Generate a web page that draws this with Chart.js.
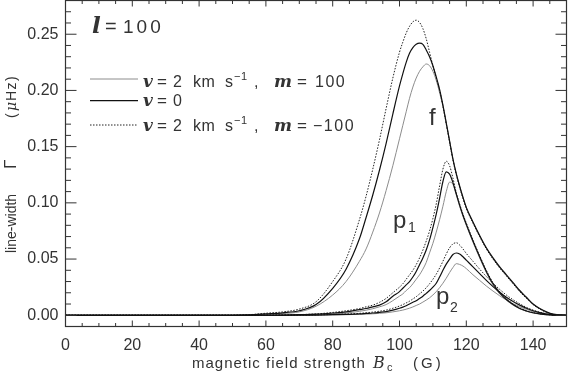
<!DOCTYPE html>
<html>
<head>
<meta charset="utf-8">
<script src="https://cdn.jsdelivr.net/npm/chart.js@4.4.0/dist/chart.umd.min.js"></script>
<style>
html, body { margin: 0; padding: 0; background: #fff; }
canvas { display: block; }
</style>
</head>
<body>
<canvas id="chart" width="568" height="372"></canvas>
<script>
// field strength B_c (G)
var Bc = [0, 50, 55, 60, 65, 70, 75, 80, 84, 88, 90, 92, 94, 96, 98,
  100, 101, 102, 103, 104, 105, 106, 107, 108, 109, 110, 111, 112, 113, 114, 115, 116, 117, 118, 119, 120,
  122, 124, 126, 128, 130, 132, 134, 136, 138, 140, 142, 144, 146, 150];

// line-width (muHz), f mode
var fP2 = [0, 0, 0.0002, 0.0008, 0.0015, 0.003, 0.008, 0.018, 0.030, 0.048, 0.059, 0.074, 0.091, 0.111, 0.133,
  0.157, 0.169, 0.181, 0.193, 0.203, 0.211, 0.217, 0.221, 0.2235, 0.222, 0.217, 0.209, 0.198, 0.186, 0.171, 0.155, 0.139, 0.126, 0.1145, 0.1045, 0.0955,
  0.0825, 0.0705, 0.0595, 0.0505, 0.0425, 0.0355, 0.0285, 0.0215, 0.0155, 0.0098, 0.0058, 0.0028, 0.0009, 0];
var fV0 = [0, 0, 0.0003, 0.0012, 0.0022, 0.004, 0.0095, 0.024, 0.041, 0.068, 0.087, 0.107, 0.129, 0.153, 0.179,
  0.204, 0.215, 0.225, 0.233, 0.238, 0.241, 0.242, 0.241, 0.236, 0.230, 0.222, 0.212, 0.201, 0.187, 0.171, 0.155, 0.139, 0.126, 0.115, 0.105, 0.096,
  0.083, 0.071, 0.060, 0.051, 0.043, 0.036, 0.029, 0.022, 0.016, 0.010, 0.006, 0.003, 0.001, 0];
var fM2 = [0, 0, 0.0005, 0.0018, 0.003, 0.0055, 0.012, 0.030, 0.050, 0.085, 0.106, 0.130, 0.156, 0.184, 0.211,
  0.234, 0.243, 0.251, 0.257, 0.261, 0.2625, 0.2605, 0.255, 0.246, 0.234, 0.222, 0.211, 0.200, 0.186, 0.170, 0.154, 0.138, 0.125, 0.114, 0.104, 0.095,
  0.082, 0.070, 0.059, 0.050, 0.042, 0.035, 0.028, 0.021, 0.015, 0.0095, 0.0055, 0.0025, 0.0008, 0];

// p1 mode
var p1P2 = [0, 0, 0, 0, 0.0001, 0.0003, 0.0007, 0.0014, 0.002, 0.0035, 0.0045, 0.0058, 0.0075, 0.0095, 0.013,
  0.017, 0.019, 0.022, 0.0245, 0.028, 0.032, 0.036, 0.041, 0.047, 0.0555, 0.064, 0.074, 0.085, 0.097, 0.110, 0.1184, 0.1165, 0.107, 0.097, 0.088, 0.080,
  0.065, 0.051, 0.038, 0.027, 0.019, 0.0135, 0.009, 0.0058, 0.0036, 0.002, 0.0011, 0.0004, 0.0001, 0];
var p1V0 = [0, 0, 0, 0, 0.0002, 0.0005, 0.001, 0.002, 0.003, 0.005, 0.006, 0.0075, 0.009, 0.012, 0.017,
  0.021, 0.024, 0.027, 0.030, 0.034, 0.039, 0.045, 0.051, 0.058, 0.067, 0.078, 0.090, 0.104, 0.119, 0.1276, 0.1255, 0.118, 0.108, 0.098, 0.089, 0.081,
  0.066, 0.052, 0.039, 0.028, 0.020, 0.014, 0.0095, 0.006, 0.0038, 0.0022, 0.0012, 0.0005, 0.0001, 0];
var p1M2 = [0, 0, 0, 0.0001, 0.0003, 0.0006, 0.0012, 0.0025, 0.004, 0.006, 0.0075, 0.009, 0.0115, 0.015, 0.020,
  0.025, 0.028, 0.032, 0.036, 0.040, 0.045, 0.051, 0.058, 0.066, 0.075, 0.086, 0.099, 0.115, 0.130, 0.137, 0.133, 0.122, 0.109, 0.099, 0.090, 0.082,
  0.067, 0.053, 0.040, 0.029, 0.021, 0.015, 0.010, 0.0065, 0.004, 0.0024, 0.0013, 0.0006, 0.0002, 0];

// p2 mode
var p2P2 = [0, 0, 0, 0, 0, 0, 0.0001, 0.0003, 0.0005, 0.0008, 0.001, 0.0013, 0.0017, 0.0022, 0.003,
  0.004, 0.0046, 0.0054, 0.0063, 0.0074, 0.0087, 0.010, 0.0117, 0.0135, 0.0155, 0.018, 0.021, 0.0245, 0.0285, 0.033, 0.038, 0.0425, 0.0459, 0.0452, 0.0438, 0.0415,
  0.036, 0.031, 0.026, 0.0215, 0.0173, 0.0135, 0.0103, 0.0076, 0.0053, 0.0034, 0.002, 0.0009, 0.0003, 0];
var p2V0 = [0, 0, 0, 0, 0, 0, 0.0002, 0.0005, 0.0008, 0.0012, 0.0016, 0.002, 0.0026, 0.0033, 0.0045,
  0.0062, 0.0072, 0.0085, 0.010, 0.0115, 0.013, 0.015, 0.017, 0.0195, 0.022, 0.025, 0.0285, 0.034, 0.040, 0.0455, 0.050, 0.054, 0.0554, 0.0545, 0.052, 0.049,
  0.043, 0.037, 0.031, 0.0255, 0.0205, 0.016, 0.0122, 0.009, 0.0062, 0.004, 0.0024, 0.0011, 0.0003, 0];
var p2M2 = [0, 0, 0, 0, 0, 0.0001, 0.0003, 0.0007, 0.0011, 0.0017, 0.0022, 0.0028, 0.0036, 0.0046, 0.0062,
  0.0082, 0.0095, 0.011, 0.0125, 0.0145, 0.0165, 0.019, 0.0215, 0.0245, 0.028, 0.032, 0.0365, 0.042, 0.048, 0.0545, 0.060, 0.0635, 0.0645, 0.0625, 0.059, 0.055,
  0.048, 0.041, 0.0345, 0.0285, 0.023, 0.018, 0.0138, 0.0102, 0.007, 0.0046, 0.0027, 0.0013, 0.0004, 0];

var xTicks = [0, 20, 40, 60, 80, 100, 120, 140];
var yTicks = [0.00, 0.05, 0.10, 0.15, 0.20, 0.25];

var GRAY = '#8c8c8c', INK = '#333';
var SANS = '"Liberation Sans", Arial, sans-serif';
var SERIF = '"DejaVu Serif", "Liberation Serif", serif';

function pts(arr) {
  return Bc.map(function (b, i) { return { x: b, y: arr[i] }; });
}

function line(arr, kind) {
  var ds = { data: pts(arr), pointRadius: 0, fill: false, cubicInterpolationMode: 'monotone' };
  if (kind == 'gray') { ds.borderColor = GRAY; ds.borderWidth = 1; ds.order = 2; }
  if (kind == 'black') { ds.borderColor = '#111'; ds.borderWidth = 1.2; ds.order = 0; }
  if (kind == 'dot') { ds.borderColor = '#222'; ds.borderWidth = 1; ds.borderDash = [1.5, 1.5]; ds.order = 1; }
  return ds;
}

function put(ctx, text, font, x, y, sp) {
  ctx.font = font;
  ctx.letterSpacing = (sp || 0) + 'px';
  ctx.fillText(text, x, y);
}

// frame with inward ticks on all four sides
var frame = {
  id: 'frame',
  afterDatasetsDraw: function (chart) {
    var ctx = chart.ctx, a = chart.chartArea, xs = chart.scales.x, ys = chart.scales.y;
    ctx.save();
    ctx.strokeStyle = INK;
    ctx.lineWidth = 1.2;
    ctx.strokeRect(a.left, a.top, a.right - a.left, a.bottom - a.top);
    ctx.lineWidth = 1;
    ctx.beginPath();
    for (var v = 0; v <= 150; v += 5) {
      var px = xs.getPixelForValue(v), len = (v % 20 == 0) ? 6 : 3.5;
      ctx.moveTo(px, a.bottom); ctx.lineTo(px, a.bottom - len);
      ctx.moveTo(px, a.top); ctx.lineTo(px, a.top + len);
    }
    for (var k = -1; k <= 28; k++) {
      var py = ys.getPixelForValue(k / 100), ln = (k % 5 == 0) ? 11 : 5.5;
      ctx.moveTo(a.left, py); ctx.lineTo(a.left + ln, py);
      ctx.moveTo(a.right, py); ctx.lineTo(a.right - ln, py);
    }
    ctx.stroke();
    ctx.restore();
  }
};

// legend, mode labels and axis titles
var texts = {
  id: 'texts',
  afterDraw: function (chart) {
    var ctx = chart.ctx;
    ctx.save();
    ctx.fillStyle = INK;
    ctx.textAlign = 'left';
    ctx.textBaseline = 'alphabetic';

    put(ctx, 'l', 'italic bold 23px ' + SERIF, 92, 33);
    put(ctx, '=', '20px ' + SANS, 105, 33);
    put(ctx, '100', '19px ' + SANS, 123, 33, 3);

    // legend samples
    var rows = [[79, GRAY, 1, []], [100.7, '#111', 1.2, []], [125, '#222', 1, [1.5, 1.5]]];
    rows.forEach(function (r) {
      ctx.beginPath();
      ctx.strokeStyle = r[1]; ctx.lineWidth = r[2]; ctx.setLineDash(r[3]);
      ctx.moveTo(90, r[0]); ctx.lineTo(138, r[0]); ctx.stroke();
    });
    ctx.setLineDash([]);

    [[87, '100'], [131, '\u2212100']].forEach(function (r) {
      var b = r[0];
      put(ctx, 'v', 'italic bold 17px ' + SERIF, 143, b);
      put(ctx, '=', '17px ' + SANS, 157, b);
      put(ctx, '2', '16px ' + SANS, 173, b);
      put(ctx, 'km', '16px ' + SANS, 193, b, 0.5);
      put(ctx, 's', '16px ' + SANS, 225, b);
      put(ctx, '\u22121', '11px ' + SANS, 234, b - 7, 0.5);
      put(ctx, ',', '16px ' + SANS, 254, b);
      put(ctx, 'm', 'italic bold 17px ' + SERIF, 274, b);
      put(ctx, '=', '17px ' + SANS, 297, b);
      put(ctx, r[1], '16px ' + SANS, r[1] == '100' ? 315 : 313, b, 1.5);
    });
    put(ctx, 'v', 'italic bold 17px ' + SERIF, 143, 106);
    put(ctx, '=', '17px ' + SANS, 157, 106);
    put(ctx, '0', '16px ' + SANS, 173, 106);

    // mode labels
    put(ctx, 'f', '24px ' + SANS, 429, 125);
    put(ctx, 'p', '24px ' + SANS, 393, 228);
    put(ctx, '1', '14px ' + SANS, 408, 232);
    put(ctx, 'p', '24px ' + SANS, 436, 304);
    put(ctx, '2', '14px ' + SANS, 450, 312);

    // x title
    put(ctx, 'magnetic field strength', '15px ' + SANS, 192, 368, 1);
    put(ctx, 'B', 'italic 16px ' + SERIF, 373, 368);
    put(ctx, 'c', '11px ' + SANS, 387, 371);
    put(ctx, '(G)', '15px ' + SANS, 413, 368, 3);

    // y title, reading upwards
    ctx.translate(16, 0);
    ctx.rotate(-Math.PI / 2);
    put(ctx, 'line-width', '14px ' + SANS, -253, 0, 0);
    put(ctx, '\u0393', '17px ' + SANS, -169, 0);
    put(ctx, '(', '14px ' + SANS, -118, 0);
    put(ctx, '\u03bc', 'italic 14px ' + SERIF, -111, 0);
    put(ctx, 'Hz)', '14px ' + SANS, -101, 0, 1.5);
    ctx.restore();
  }
};

function noPad(s) { s.paddingTop = 0; s.paddingBottom = 0; s.paddingLeft = 0; s.paddingRight = 0; }

new Chart(document.getElementById('chart'), {
  type: 'line',
  data: {
    datasets: [
      line(fV0, 'black'), line(p1V0, 'black'), line(p2V0, 'black'),
      line(fM2, 'dot'), line(p1M2, 'dot'), line(p2M2, 'dot'),
      line(fP2, 'gray'), line(p1P2, 'gray'), line(p2P2, 'gray')
    ]
  },
  options: {
    responsive: false,
    animation: false,
    devicePixelRatio: 1,
    layout: { padding: { top: 0.5, right: 1.5, left: 0, bottom: 0 } },
    plugins: { legend: { display: false }, tooltip: { enabled: false } },
    scales: {
      x: {
        type: 'linear', min: 0, max: 150,
        afterFit: function (s) { s.height = 45.5; noPad(s); },
        afterBuildTicks: function (s) { s.ticks = xTicks.map(function (v) { return { value: v }; }); },
        grid: { display: false, drawTicks: false }, border: { display: false },
        ticks: { color: INK, font: { family: SANS, size: 16 }, padding: 9, maxRotation: 0 }
      },
      y: {
        type: 'linear', min: -0.01, max: 0.28,
        afterFit: function (s) { s.width = 65.5; noPad(s); },
        afterBuildTicks: function (s) { s.ticks = yTicks.map(function (v) { return { value: v }; }); },
        grid: { display: false, drawTicks: false }, border: { display: false },
        ticks: {
          color: INK, font: { family: SANS, size: 16 }, padding: 7,
          callback: function (v) { return v.toFixed(2); }
        }
      }
    }
  },
  plugins: [frame, texts]
});
</script>
</body>
</html>
